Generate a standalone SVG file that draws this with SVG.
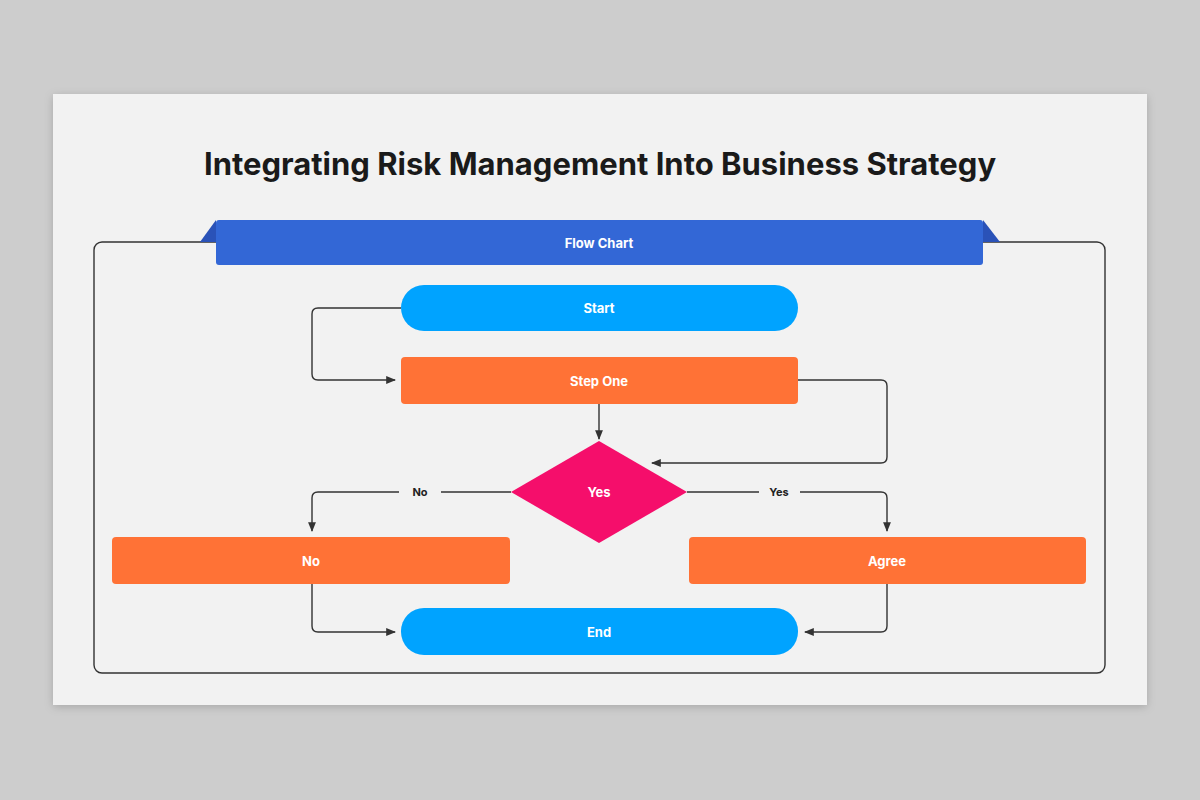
<svg xmlns="http://www.w3.org/2000/svg" width="1200" height="800" viewBox="0 0 1200 800">
<defs>
<filter id="sh" x="-5%" y="-5%" width="110%" height="115%"><feDropShadow dx="0" dy="2" stdDeviation="4" flood-color="#000" flood-opacity="0.18"/></filter>
<marker id="ar" viewBox="0 0 10 10" refX="9" refY="5" markerWidth="7" markerHeight="7" orient="auto"><path d="M0,1 L10,5 L0,9 Z" fill="#333"/></marker>
<style>
.t{font-family:Inter,"Liberation Sans",sans-serif;font-weight:700;fill:#fff;font-size:13px;text-anchor:middle;dominant-baseline:central}
.c{fill:none;stroke:#333;stroke-width:1.4;marker-end:url(#ar)}
.l{font-family:Inter,"Liberation Sans",sans-serif;font-weight:700;fill:#222;font-size:11px;text-anchor:middle;dominant-baseline:central}
.o{fill:#ff7236}
.b{fill:#00a3ff}
</style>
</defs>
<rect width="1200" height="800" fill="#cdcdcd"/>
<rect x="53" y="94" width="1094" height="611" fill="#f2f2f2" filter="url(#sh)"/>
<text x="600" y="163" font-family="Inter,'Liberation Sans',sans-serif" font-weight="700" font-size="31" fill="#1a1a1a" text-anchor="middle" dominant-baseline="central">Integrating Risk Management Into Business Strategy</text>
<rect x="94" y="242" width="1011" height="431" rx="8" fill="none" stroke="#333" stroke-width="1.4"/>
<g id="banner">
<polygon points="200,242 216,220 216,242" fill="#2a52b8"/>
<polygon points="983,220 1000,242 983,242" fill="#2a52b8"/>
<rect x="216" y="220" width="767" height="45" rx="3" fill="#3367d6"/>
<text class="t" x="599" y="243">Flow Chart</text>
</g>
<g id="connectors">
<path class="c" d="M401,308 H318 Q312,308 312,314 V374 Q312,380 318,380 H395"/>
<path class="c" d="M599,404 V439"/>
<path class="c" d="M798,380 H881 Q887,380 887,386 V457 Q887,463 881,463 H652"/>
<path class="c" d="M511,492 H441 M399,492 H318 Q312,492 312,498 V531"/>
<path class="c" d="M687,492 H759 M800,492 H881 Q887,492 887,498 V531"/>
<path class="c" d="M312,584 V626 Q312,632 318,632 H395"/>
<path class="c" d="M887,584 V626 Q887,632 881,632 H805"/>
<text class="l" x="420" y="492">No</text>
<text class="l" x="779" y="492">Yes</text>
</g>
<g id="start"><rect class="b" x="401" y="285" width="397" height="46" rx="23"/><text class="t" x="599" y="308">Start</text></g>
<g id="step1"><rect class="o" x="401" y="357" width="397" height="47" rx="4"/><text class="t" x="599" y="381">Step One</text></g>
<g id="decision"><polygon points="599,441 687,492 599,543 511,492" fill="#f50e6b"/><text class="t" x="599" y="492">Yes</text></g>
<g id="no"><rect class="o" x="112" y="537" width="398" height="47" rx="4"/><text class="t" x="311" y="561">No</text></g>
<g id="agree"><rect class="o" x="689" y="537" width="397" height="47" rx="4"/><text class="t" x="887" y="561">Agree</text></g>
<g id="end"><rect class="b" x="401" y="608" width="397" height="47" rx="23"/><text class="t" x="599" y="632">End</text></g>
</svg>
